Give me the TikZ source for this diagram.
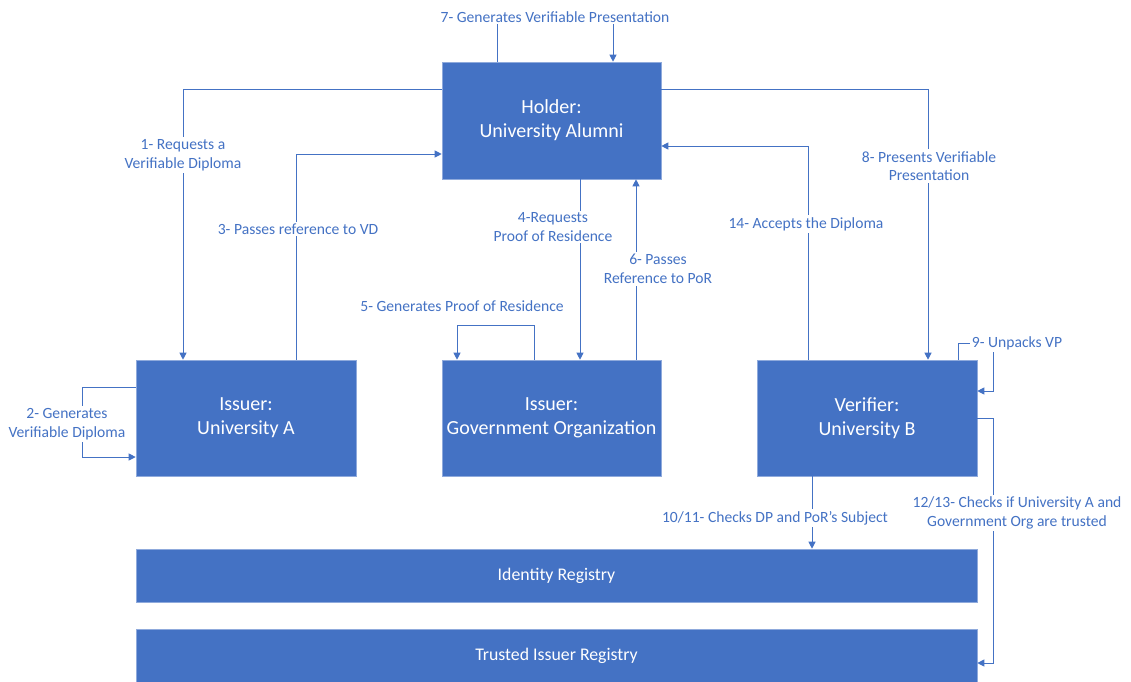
\documentclass[tikz,border=0pt]{standalone}
\usepackage{fontspec}
\setmainfont{Carlito}
\usetikzlibrary{arrows.meta}
\definecolor{officeblue}{HTML}{4472C4}
\definecolor{boxedge}{HTML}{8FAADC}
\begin{document}
\begin{tikzpicture}[x=1pt,y=-1pt,
  box/.style={draw=boxedge, line width=0.6pt, fill=officeblue, text=white, inner sep=0pt,
              align=center, font=\fontsize{20}{24}\selectfont},
  regbox/.style={box, font=\fontsize{17.8}{20}\selectfont},
  conn/.style={draw=officeblue, line width=1pt},
  arr/.style={conn, -{Triangle[length=7pt,width=7pt]}},
  lbl/.style={fill=white, text=officeblue, inner sep=2pt, align=center,
              font=\fontsize{15.6}{18.5}\selectfont}]
\useasboundingbox (0,0) rectangle (1131,681);

% parties
\node[box, minimum width=219pt, minimum height=117pt] (holder) at (551.5,120.5) {Holder:\\University Alumni};
\node[box, minimum width=220pt, minimum height=116pt] (issA) at (246,418) {Issuer:\\University A};
\node[box, minimum width=219pt, minimum height=116pt] (gov) at (551.5,418) {Issuer:\\Government Organization};
\node[box, minimum width=220pt, minimum height=116pt] (ver) at (867,418) {Verifier:\\University B};

% registries
\node[regbox, minimum width=841pt, minimum height=53pt] (idreg) at (556.5,575.5) {Identity Registry};
\node[regbox, minimum width=841pt, minimum height=53pt] (trust) at (556.5,655.5) {Trusted Issuer Registry};

% message flows
\draw[arr] (holder.north -| 497,0) -- (497,17) -- (613,17) -- (holder.north -| 613,0);
\draw[arr] (holder.west |- 0,89) -| (issA.north -| 183,0);
\draw[arr] (issA.west |- 0,387) -- (82,387) -- (82,457) -- (issA.west |- 0,457);
\draw[arr] (issA.north -| 296,0) |- (holder.west |- 0,154);
\draw[arr] (holder.south -| 580,0) -- (gov.north -| 580,0);
\draw[arr] (gov.north -| 534,0) -- (534,325) -- (457,325) -- (gov.north -| 457,0);
\draw[arr] (gov.north -| 636,0) -- (holder.south -| 636,0);
\draw[arr] (holder.east |- 0,89) -| (ver.north -| 928,0);
\draw[arr] (ver.north -| 958,0) |- (993,343) -- (993,391) -- (ver.east |- 0,391);
\draw[arr] (ver.south -| 812,0) -- (idreg.north -| 812,0);
\draw[arr] (ver.east |- 0,418) -- (993,418) -- (993,663) -- (trust.east |- 0,663);
\draw[arr] (ver.north -| 808,0) |- (holder.east |- 0,146);

% step labels
\node[lbl] (l7) at (555,17) {7- Generates Verifiable Presentation};
\node[lbl] (l1) at (183,155) {1- Requests a\\Verifiable Diploma};
\node[lbl] (l2) at (67,424) {2- Generates\\Verifiable Diploma};
\node[lbl] (l3) at (298,229) {3- Passes reference to VD};
\node[lbl] (l4) at (553,227) {4-Requests\\Proof of Residence};
\node[lbl] (l5) at (462,306) {5- Generates Proof of Residence};
\node[lbl] (l6) at (658,269) {6- Passes\\Reference to PoR};
\node[lbl] (l8) at (929,166) {8- Presents Verifiable\\Presentation};
\node[lbl] (l9) at (1017,343) {9- Unpacks VP};
\node[lbl] (l10) at (775,518) {10/11- Checks DP and PoR's Subject};
\node[lbl] (l12) at (1017,513) {12/13- Checks if University A and\\Government Org are trusted};
\node[lbl] (l14) at (806,224) {14- Accepts the Diploma};
\end{tikzpicture}
\end{document}
